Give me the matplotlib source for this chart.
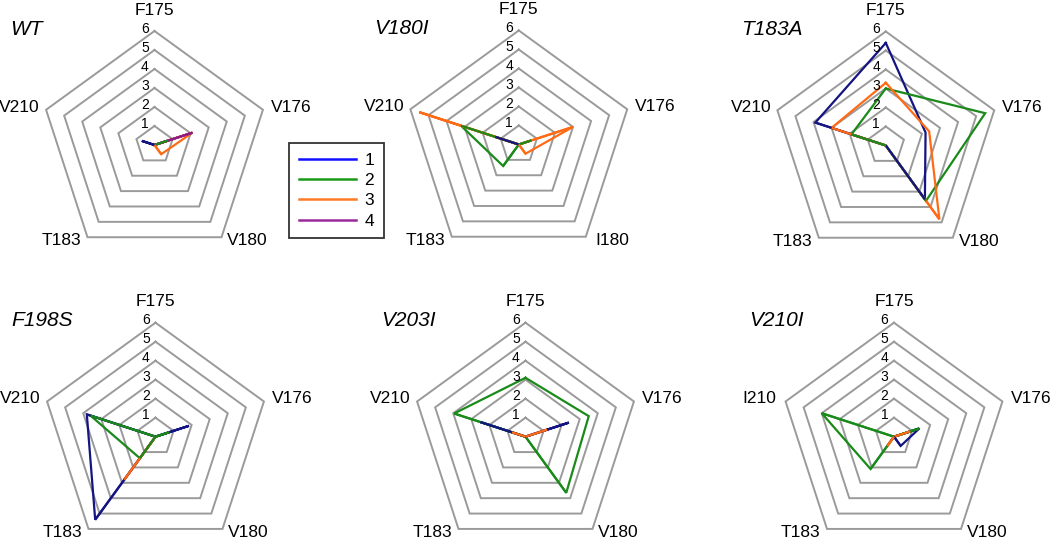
import numpy as np
import matplotlib
matplotlib.use('Agg')
import matplotlib.pyplot as plt
from matplotlib.lines import Line2D

plt.rcParams['font.family'] = ['Liberation Sans', 'DejaVu Sans']

# ---------------- data ----------------
panel_titles = ['WT', 'V180I', 'T183A', 'F198S', 'V203I', 'V210I']
axis_labels = [
    ['F175', 'V176', 'V180', 'T183', 'V210'],
    ['F175', 'V176', 'I180', 'T183', 'V210'],
    ['F175', 'V176', 'V180', 'T183', 'V210'],
    ['F175', 'V176', 'V180', 'T183', 'V210'],
    ['F175', 'V176', 'V180', 'T183', 'V210'],
    ['F175', 'V176', 'V180', 'T183', 'I210'],
]
series_labels = ['1', '2', '3', '4']
ring_levels = [1, 2, 3, 4, 5, 6]

# values in axis order F175, V176, V180(I180), T183, V210(I210)
wt_1 = [0, 0, 0, 0, 0.7]
wt_2 = [0, 0.75, 0, 0, 0]
wt_3 = [0, 2.1, 0.6, 0, 0]
wt_4 = [0, 2.1, 0, 0, 0]

v180i_1 = [0, 0, 0, 0, 1.3]
v180i_2 = [0, 0.7, 0, 1.4, 3.2]
v180i_3 = [0, 3.0, 0.6, 0, 5.5]

t183a_1 = [5.4, 2.2, 3.5, 0, 3.9]
t183a_2 = [3.0, 5.5, 3.6, 0, 1.9]
t183a_3 = [3.3, 2.4, 4.8, 0, 3.0]

f198s_1 = [0, 1.85, 0, 5.4, 3.8]
f198s_2 = [0, 0.77, 0, 1.4, 3.6]
f198s_3 = [0, 0, 0, 2.8, 0]

v203i_1 = [0, 2.4, 0, 0, 2.5]
v203i_2 = [3.1, 3.5, 3.65, 0, 3.95]
v203i_3 = [0, 1.2, 0, 0, 0.75]

v210i_1 = [0, 1.4, 0.6, 0, 0]
v210i_2 = [0, 1.4, 0, 2.1, 4.0]
v210i_3 = [0, 0.9, 0, 0.6, 0]

panel_series = [
    [wt_1, wt_2, wt_3, wt_4],
    [v180i_1, v180i_2, v180i_3, None],
    [t183a_1, t183a_2, t183a_3, None],
    [f198s_1, f198s_2, f198s_3, None],
    [v203i_1, v203i_2, v203i_3, None],
    [v210i_1, v210i_2, v210i_3, None],
]

# ---------------- style / layout ----------------
W, H = 1050, 546
line_colors = ['#141482', '#1a8a1a', '#ff6a14', '#8a1a8a']
legend_colors = ['#1010ff', '#1a9a1a', '#ff7a24', '#9a2a9a']
grid_color = '#9a9a9a'
unit = 19.0            # px per data unit
L = 7.8                # half-extent of each axes in data units
centers = [(154.5, 145), (518.8, 144.5), (885.8, 145.5),
           (155.5, 436.7), (525.5, 436.7), (894, 436.7)]
label_offsets = [(0, 7.1), (7.2, 2.0), (4.9, -5.05), (-4.9, -5.05), (-7.1, 2.0)]
title_offset = (-7.6, 6.1)

fig = plt.figure(figsize=(W / 100, H / 100), dpi=100)

n_ax = 5
angles = np.pi / 2 - 2 * np.pi * np.arange(n_ax) / n_ax   # clockwise from top


def xy(vals):
    v = np.asarray(vals, dtype=float)
    return v * np.cos(angles), v * np.sin(angles)


for p in range(6):
    cx, cy = centers[p]
    w = 2 * L * unit / W
    h = 2 * L * unit / H
    ax = fig.add_axes([cx / W - w / 2, (H - cy) / H - h / 2, w, h])
    ax.set_xlim(-L, L)
    ax.set_ylim(-L, L)
    ax.axis('off')

    # pentagon grid
    for r in ring_levels:
        gx, gy = xy([r] * n_ax)
        ax.plot(np.append(gx, gx[0]), np.append(gy, gy[0]),
                color=grid_color, lw=1.4, zorder=1, solid_joinstyle='miter')
        ax.text(-0.3, r + 0.12, str(r), ha='right', va='center',
                fontsize=10, color='black', zorder=6)

    # series polygons
    radial = []
    for s, vals in enumerate(panel_series[p]):
        if vals is None:
            continue
        px, py = xy(vals)
        ax.plot(np.append(px, px[0]), np.append(py, py[0]),
                color=line_colors[s], lw=1.6, zorder=2, solid_joinstyle='miter')
        for i in range(n_ax):
            v = vals[i]
            if v > 0 and (vals[(i - 1) % n_ax] == 0 or vals[(i + 1) % n_ax] == 0):
                radial.append((v, s, i))
    # overlapping radial segments: shorter on top
    radial.sort(key=lambda t: (-t[0], t[1]))
    for k, (v, s, i) in enumerate(radial):
        ax.plot([0, v * np.cos(angles[i])], [0, v * np.sin(angles[i])],
                color=line_colors[s], lw=1.6, zorder=3 + k * 0.01,
                solid_capstyle='butt')

    for i in range(n_ax):
        ox, oy = label_offsets[i]
        ax.text(ox, oy, axis_labels[p][i], ha='center', va='center',
                fontsize=12.5, color='black', clip_on=False)
    ax.text(title_offset[0], title_offset[1], panel_titles[p], ha='left',
            va='center', fontsize=15, style='italic', clip_on=False)

handles = [Line2D([], [], color=c, lw=1.8) for c in legend_colors]
leg = fig.legend(handles, series_labels, loc='upper left',
                 bbox_to_anchor=(289 / W, (H - 143) / H),
                 fontsize=12.5, frameon=True, fancybox=False,
                 handlelength=3.3, handletextpad=0.5, labelspacing=0.3,
                 borderpad=0.55, borderaxespad=0)
leg.get_frame().set_edgecolor('black')
leg.get_frame().set_linewidth(1.3)

fig.savefig('out.png', dpi=100)
